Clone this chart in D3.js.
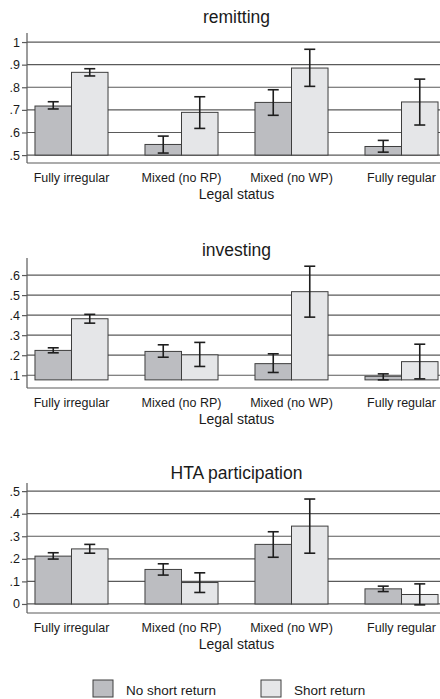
<!DOCTYPE html>
<html>
<head>
<meta charset="utf-8">
<script src="https://cdn.jsdelivr.net/npm/d3@7"></script>
<style>
  html, body { margin: 0; padding: 0; background: #fff; }
  svg { display: block; font-family: "Liberation Sans", Arial, sans-serif; }
</style>
</head>
<body>
<svg id="chart" width="440" height="699"></svg>
<script>
// ---------- DATA ----------
const categories = ["Fully irregular", "Mixed (no RP)", "Mixed (no WP)", "Fully regular"];
const seriesNames = ["No short return", "Short return"];
const panelTitles = ["remitting", "investing", "HTA participation"];
const xAxisTitle = "Legal status";

const remitNo = [0.717, 0.547, 0.733, 0.538];
const remitNoCI = [[0.704, 0.736], [0.509, 0.584], [0.676, 0.789], [0.513, 0.565]];
const remitShort = [0.866, 0.689, 0.885, 0.735];
const remitShortCI = [[0.850, 0.882], [0.618, 0.758], [0.804, 0.968], [0.633, 0.836]];

const investNo = [0.224, 0.219, 0.158, 0.095];
const investNoCI = [[0.212, 0.237], [0.190, 0.252], [0.114, 0.207], [0.077, 0.107]];
const investShort = [0.382, 0.202, 0.517, 0.168];
const investShortCI = [[0.360, 0.404], [0.144, 0.264], [0.390, 0.644], [0.082, 0.255]];

const htaNo = [0.212, 0.153, 0.264, 0.067];
const htaNoCI = [[0.199, 0.227], [0.128, 0.178], [0.207, 0.320], [0.055, 0.079]];
const htaShort = [0.244, 0.095, 0.345, 0.042];
const htaShortCI = [[0.225, 0.264], [0.051, 0.138], [0.225, 0.465], [-0.004, 0.089]];

const remitTicks = [0.5, 0.6, 0.7, 0.8, 0.9, 1];
const investTicks = [0.1, 0.2, 0.3, 0.4, 0.5, 0.6];
const htaTicks = [0, 0.1, 0.2, 0.3, 0.4, 0.5];

const remitTickLabels = [".5", ".6", ".7", ".8", ".9", "1"];
const investTickLabels = [".1", ".2", ".3", ".4", ".5", ".6"];
const htaTickLabels = ["0", ".1", ".2", ".3", ".4", ".5"];

// axis ranges and bar base values
const remitDomain = [0.465, 1.04], remitBase = 0.5;
const investDomain = [0.0365, 0.685], investBase = 0.077;
const htaDomain = [-0.04, 0.536], htaBase = 0;

// ---------- BUILD ----------
const panels = [
  { title: panelTitles[0], no: remitNo, noCI: remitNoCI, sh: remitShort, shCI: remitShortCI,
    ticks: remitTicks, labels: remitTickLabels, domain: remitDomain, base: remitBase },
  { title: panelTitles[1], no: investNo, noCI: investNoCI, sh: investShort, shCI: investShortCI,
    ticks: investTicks, labels: investTickLabels, domain: investDomain, base: investBase },
  { title: panelTitles[2], no: htaNo, noCI: htaNoCI, sh: htaShort, shCI: htaShortCI,
    ticks: htaTicks, labels: htaTickLabels, domain: htaDomain, base: htaBase }
];

const layout = {
  axisX: 27, plotRight: 446, width: 440,
  panelTops: [33, 258, 483], panelH: 130,
  titleY: [23, 256, 479]
};
const colors = { no: "#bcbdc1", sh: "#e5e6e8", edge: "#3e3e3e", grid: "#5a5a5a", err: "#1e1e1e", text: "#1a1a1a" };

const svg = d3.select("#chart");

const x0 = d3.scaleBand().domain(categories)
  .range([layout.axisX, layout.plotRight])
  .paddingInner(0.336).paddingOuter(0.0725);
const x1 = d3.scaleBand().domain(["no", "sh"]).range([0, x0.bandwidth()]);

panels.forEach((p, i) => {
  const top = layout.panelTops[i];
  const bottom = top + layout.panelH;
  const y = d3.scaleLinear().domain(p.domain).range([bottom, top]);
  const g = svg.append("g");

  // title
  g.append("text")
    .attr("x", (layout.axisX + layout.plotRight) / 2)
    .attr("y", layout.titleY[i])
    .attr("text-anchor", "middle")
    .attr("font-size", 17.5)
    .attr("fill", colors.text)
    .text(p.title);

  // gridlines
  g.selectAll(".grid").data(p.ticks).enter().append("line")
    .attr("x1", layout.axisX).attr("x2", layout.width)
    .attr("y1", d => y(d)).attr("y2", d => y(d))
    .attr("stroke", colors.grid).attr("stroke-width", 1.2);

  // y axis
  const yAxis = d3.axisLeft(y).tickValues(p.ticks)
    .tickFormat((d, k) => p.labels[k]).tickSize(5).tickPadding(2);
  const ya = g.append("g").attr("transform", `translate(${layout.axisX},0)`).call(yAxis);
  ya.select(".domain").remove();
  ya.selectAll(".tick line").attr("stroke", colors.grid).attr("stroke-width", 1.2);
  ya.selectAll(".tick text").attr("font-size", 12.5).attr("fill", colors.text)
    .attr("font-family", "'Liberation Sans', Arial, sans-serif");
  g.append("line")
    .attr("x1", layout.axisX).attr("x2", layout.axisX)
    .attr("y1", top).attr("y2", bottom)
    .attr("stroke", colors.grid).attr("stroke-width", 1.2);

  // x axis
  const xAxis = d3.axisBottom(x0).tickSize(0).tickPadding(10);
  const xa = g.append("g").attr("transform", `translate(0,${bottom})`).call(xAxis);
  xa.select(".domain").remove();
  xa.selectAll(".tick text").attr("font-size", 12.5).attr("fill", colors.text)
    .attr("font-family", "'Liberation Sans', Arial, sans-serif");
  g.append("line")
    .attr("x1", layout.axisX).attr("x2", layout.width)
    .attr("y1", bottom).attr("y2", bottom)
    .attr("stroke", colors.grid).attr("stroke-width", 1.2);

  g.append("text")
    .attr("x", (layout.axisX + layout.plotRight) / 2)
    .attr("y", bottom + 36)
    .attr("text-anchor", "middle")
    .attr("font-size", 14)
    .attr("fill", colors.text)
    .text(xAxisTitle);

  // bars
  const rows = [];
  categories.forEach((c, k) => {
    rows.push({ cat: c, key: "no", v: p.no[k], ci: p.noCI[k] });
    rows.push({ cat: c, key: "sh", v: p.sh[k], ci: p.shCI[k] });
  });
  g.selectAll(".bar").data(rows).enter().append("rect")
    .attr("x", d => x0(d.cat) + x1(d.key))
    .attr("width", x1.bandwidth())
    .attr("y", d => y(d.v))
    .attr("height", d => y(p.base) - y(d.v))
    .attr("fill", d => colors[d.key])
    .attr("stroke", colors.edge).attr("stroke-width", 1);

  // error bars
  const cap = 5.5;
  const eg = g.selectAll(".err").data(rows).enter().append("g")
    .attr("stroke", colors.err).attr("stroke-width", 1.6);
  const cx = d => x0(d.cat) + x1(d.key) + x1.bandwidth() / 2;
  eg.append("line").attr("x1", cx).attr("x2", cx)
    .attr("y1", d => y(d.ci[0])).attr("y2", d => y(d.ci[1]));
  eg.append("line").attr("x1", d => cx(d) - cap).attr("x2", d => cx(d) + cap)
    .attr("y1", d => y(d.ci[0])).attr("y2", d => y(d.ci[0]));
  eg.append("line").attr("x1", d => cx(d) - cap).attr("x2", d => cx(d) + cap)
    .attr("y1", d => y(d.ci[1])).attr("y2", d => y(d.ci[1]));
});

// legend
const legendItems = [
  { name: seriesNames[0], key: "no", x: 93 },
  { name: seriesNames[1], key: "sh", x: 261 }
];
const lg = svg.append("g");
legendItems.forEach(it => {
  lg.append("rect").attr("x", it.x).attr("y", 680).attr("width", 20).attr("height", 17)
    .attr("fill", colors[it.key]).attr("stroke", colors.edge).attr("stroke-width", 1);
  lg.append("text").attr("x", it.x + 33).attr("y", 694.5)
    .attr("font-size", 13.5).attr("fill", colors.text).text(it.name);
});
</script>
</body>
</html>
